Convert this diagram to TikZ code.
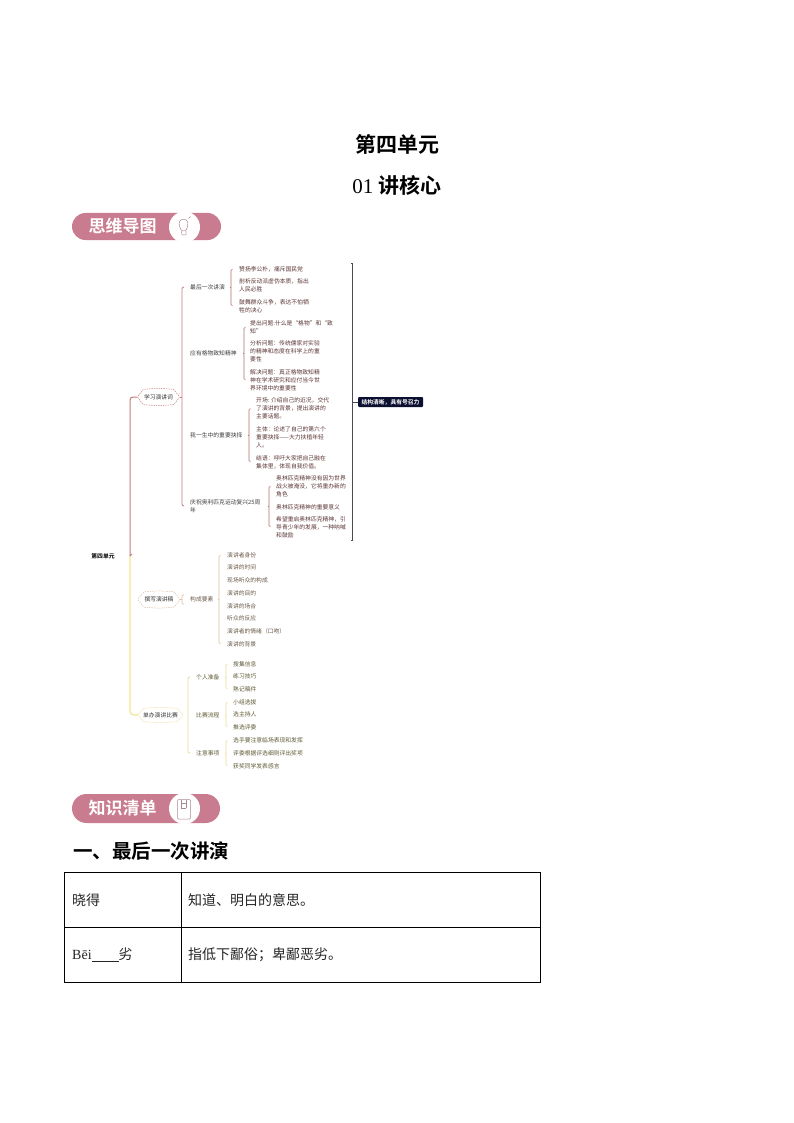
\documentclass[tikz,border=0pt]{standalone}
\usepackage{fontspec}
\usetikzlibrary{calc}
\setmainfont{Liberation Serif}
\newfontfamily\cjk{Noto Sans CJK SC}
\newfontfamily\cjkb{Noto Sans CJK SC Bold}
\definecolor{pillc}{HTML}{C97C90}
\definecolor{redl}{HTML}{C47C7C}
\definecolor{redd}{HTML}{B87070}
\definecolor{redt}{HTML}{5C3636}
\definecolor{tanl}{HTML}{DDBE9C}
\definecolor{tant}{HTML}{6B5A48}
\definecolor{yell}{HTML}{F3E58E}
\definecolor{yelb}{HTML}{E9DC98}
\definecolor{yelt}{HTML}{5F5A35}
\definecolor{sumc}{HTML}{4A4A55}
\definecolor{navy}{HTML}{0B1030}
\definecolor{icon}{HTML}{A88A92}
\tikzset{
  item/.style={anchor=west,inner sep=0pt,align=left,font=\cjk\fontsize{5.8}{7.9}\selectfont},
  reditem/.style={item,text=redt},
  tanitem/.style={item,text=tant},
  yelitem/.style={item,text=yelt},
  topic/.style={item,text=black!75},
  hexlabel/.style={inner sep=0pt,text=black!80,font=\cjk\fontsize{5.8}{7.9}\selectfont},
  pill/.style={fill=pillc,rounded corners=13.5pt,inner sep=0pt},
  pilltext/.style={text=white,inner sep=0pt,font=\cjkb\fontsize{17}{20}\selectfont},
  cell/.style={draw=black,line width=0.9pt,anchor=north west,inner sep=0pt},
  celltext/.style={anchor=west,inner sep=0pt,text=black!85,font=\cjk\fontsize{14}{16}\selectfont},
}
% \brk{colour}{parent}{first}{last}{x}{tick}
\newcommand{\brk}[6]{%
  \coordinate (bx) at (#5,0);
  \draw[#1,line width=0.6pt,rounded corners=1.5pt]
    ($(#3.west -| bx)+(#6,0)$) -- (#3.west -| bx) -- (#4.west -| bx) -- ($(#4.west -| bx)+(#6,0)$);
  \draw[#1,line width=0.6pt] ($(#2.east -| bx)+(-1.5,0)$) -- (#2.east -| bx);
}
\newcommand{\hexa}[2]{%
  \draw[#2,line width=0.5pt,dash pattern=on 1.4pt off 1pt,rounded corners=1pt]
    (#1.west) -- ([xshift=6pt]#1.north west) -- ([yshift=1pt]#1.north) -- ([xshift=-6pt]#1.north east)
    -- (#1.east) -- ([xshift=-6pt]#1.south east) -- ([yshift=-1pt]#1.south) -- ([xshift=6pt]#1.south west) -- cycle;
}
\begin{document}
\begin{tikzpicture}[x=1pt,y=-1pt]
\useasboundingbox[fill=white] (0,0) rectangle (794,1123);

% titles
\node[inner sep=0pt,font=\cjkb\fontsize{21}{24}\selectfont] (t1) at (397,144) {第四单元};
\node[inner sep=0pt,font=\fontsize{21}{24}\selectfont] (t2) at (397,185) {01 {\cjkb 讲核心}};

% pill 1
\node[pill,minimum width=149pt,minimum height=27pt] (p1) at (146.5,226.5) {};
\node[pilltext] (p1t) at (122.5,226.5) {思维导图};
\node[circle,fill=white,minimum size=31pt,inner sep=0pt] (p1c) at (184.5,227) {};
\draw[icon,line width=0.5pt,rounded corners=1.5pt] (181.5,231) -- (179,225) -- (179.5,220.5) -- (183.5,219) -- (187.5,220.5) -- (188,225) -- (186,231) -- cycle;
\draw[icon,line width=0.5pt,rounded corners=0.5pt] (181.5,231) -- (182,235) -- (186,235) -- (186,231);
\draw[icon,line width=0.5pt] (188.5,218.5) -- (190.5,216.5);

% root
\node[inner sep=0pt,font=\cjkb\fontsize{5.8}{7}\selectfont] (root) at (103,556) {第四单元};

% branch nodes
\node[hexlabel,minimum width=42pt,minimum height=15pt] (b1) at (158.5,397) {学习演讲词};
\node[hexlabel,minimum width=42pt,minimum height=15pt] (b2) at (159,599.5) {撰写演讲稿};
\node[hexlabel,minimum width=45pt,minimum height=13pt] (b3) at (160.5,715) {单办演讲比赛};
\hexa{b1}{redl}
\hexa{b2}{tanl}
\hexa{b3}{yelb}

% trunk
\draw[yell,line width=1.2pt,rounded corners=4pt] (root.east -| 130,0) -- (130,715) -- (b3.west);
\draw[redl,line width=1pt,rounded corners=3pt] (root.east -| 130,0) -- (130,397) -- (b1.west);
\draw[redl,line width=1pt] (root.east -| 130,0) -- ++(2,-2);

% level 2 red
\node[topic] (a1) at (190,287) {最后一次讲演};
\node[topic] (a2) at (190,353) {应有格物致知精神};
\node[topic] (a3) at (190,435) {我一生中的重要抉择};
\node[topic] (a4) at (190,506) {庆祝奥利匹克运动复兴25周\\年};

% items
\node[reditem] (i11) at (239,269) {赞扬李公朴，痛斥国民党};
\node[reditem] (i12) at (239,285.5) {剖析反动派虚伪本质，指出\\人民必胜};
\node[reditem] (i13) at (239,306) {鼓舞群众斗争，表达不怕牺\\牲的决心};
\node[reditem] (i21) at (250,327) {提出问题:什么是“格物”和“致\\知”};
\node[reditem] (i22) at (250,351) {分析问题：传统儒家对实验\\的精神和态度在科学上的重\\要性};
\node[reditem] (i23) at (250,380) {解决问题：真正格物致知精\\神在学术研究和应付当今世\\界环境中的重要性};
\node[reditem] (i31) at (256,408.5) {开场: 介绍自己的近况，交代\\了演讲的背景，提出演讲的\\主要话题。};
\node[reditem] (i32) at (256,437) {主体：论述了自己的第六个\\重要抉择——大力扶植年轻\\人。};
\node[reditem] (i33) at (256,462) {结语：呼吁大家把自己融在\\集体里，体现自我价值。};
\node[reditem] (i41) at (276,486) {奥林匹克精神没有因为世界\\战火被淹没，它将重办新的\\角色};
\node[reditem] (i42) at (276,507) {奥林匹克精神的重要意义};
\node[reditem] (i43) at (276,527) {希望重启奥林匹克精神，引\\导青少年的发展，一种呐喊\\和鼓励};

% red brackets
\coordinate (bx) at (182,0);
\draw[redl,line width=0.8pt,rounded corners=2pt] ($(a1.west -| bx)+(2,0)$) -- (a1.west -| bx) -- (a4.west -| bx) -- ($(a4.west -| bx)+(2,0)$);
\draw[redl,line width=0.7pt] (b1.east) -- (b1.east -| bx);
\brk{redd}{a1}{i11}{i13}{231}{1.5}
\brk{redd}{a2}{i21}{i23}{244}{1.5}
\brk{redd}{a3}{i31}{i33}{249}{1.5}
\brk{redd}{a4}{i41}{i43}{269}{1.5}

% summary
\node[fill=navy,text=white,rounded corners=1pt,inner sep=0pt,minimum width=65pt,minimum height=10pt,font=\cjkb\fontsize{5.8}{7}\selectfont] (sum) at (390.5,402) {结构清晰，具有号召力};
\coordinate (sb) at (352.5,0);
\coordinate (st) at (350.5,263);
\coordinate (sd) at (350.5,540);
\draw[sumc,line width=0.7pt] (st) -- (st -| sb) -- (sd -| sb) -- (sd);
\draw[sumc,line width=0.7pt] (sum.west -| sb) -- (sum.west);

% level 2 tan
\node[topic,text=tant] (c1) at (190,599.5) {构成要素};
\node[tanitem] (d1) at (227,555) {演讲者身份};
\node[tanitem] (d2) at (227,567.5) {演讲的时间};
\node[tanitem] (d3) at (227,580) {现场听众的构成};
\node[tanitem] (d4) at (227,593) {演讲的目的};
\node[tanitem] (d5) at (227,606) {演讲的场合};
\node[tanitem] (d6) at (227,618.5) {听众的反应};
\node[tanitem] (d7) at (227,631) {演讲者的情绪（口吻）};
\node[tanitem] (d8) at (227,644) {演讲的背景};
\coordinate (bx) at (182,0);
\draw[tanl,line width=0.7pt,rounded corners=1pt] (184,595) -- (182,595) -- (182,604) -- (184,604);
\draw[tanl,line width=0.7pt] (b2.east) -- (b2.east -| bx);
\brk{tanl}{c1}{d1}{d8}{219}{1.5}

% level 2 yellow
\node[topic,text=yelt] (e1) at (196,677) {个人准备};
\node[topic,text=yelt] (e2) at (196,715) {比赛流程};
\node[topic,text=yelt] (e3) at (196,753) {注意事项};
\node[yelitem] (f1) at (233,664) {搜集信息};
\node[yelitem] (f2) at (233,676.5) {练习技巧};
\node[yelitem] (f3) at (233,689) {熟记稿件};
\node[yelitem] (f4) at (233,702) {小组选拔};
\node[yelitem] (f5) at (233,714.5) {选主持人};
\node[yelitem] (f6) at (233,727) {推选评委};
\node[yelitem] (f7) at (233,740) {选手要注意临场表现和发挥};
\node[yelitem] (f8) at (233,753) {评委根据评选细则评出奖项};
\node[yelitem] (f9) at (233,766) {获奖同学发表感言};
\coordinate (bx) at (188,0);
\draw[yelb,line width=0.8pt,rounded corners=2pt] ($(e1.west -| bx)+(2,0)$) -- (e1.west -| bx) -- (e3.west -| bx) -- ($(e3.west -| bx)+(2,0)$);
\brk{yelb}{e1}{f1}{f3}{226}{1.5}
\brk{yelb}{e2}{f4}{f6}{226}{1.5}
\brk{yelb}{e3}{f7}{f9}{226}{1.5}

% pill 2
\node[pill,minimum width=148pt,minimum height=29pt,rounded corners=14.5pt] (p2) at (146,808.5) {};
\node[pilltext] (p2t) at (122.5,808) {知识清单};
\node[circle,fill=white,minimum size=31pt,inner sep=0pt] (p2c) at (184.5,808.5) {};
\draw[icon,line width=0.5pt,rounded corners=1pt] (177.5,799.5) rectangle (190.5,819);
\draw[icon,line width=0.5pt] (181,799.5) -- (181,808) (186,799.5) -- (186,808) (181,803) -- (186,803) (181,808) -- (186,808);

% heading
\node[anchor=west,inner sep=0pt,font=\cjkb\fontsize{19.5}{22}\selectfont] (h1) at (73,851) {一、最后一次讲演};

% table
\node[cell,minimum width=117pt,minimum height=55pt] (c11) at (64,872) {};
\node[cell,minimum width=359pt,minimum height=55pt] (c12) at (181,872) {};
\node[cell,minimum width=117pt,minimum height=55pt] (c21) at (64,927) {};
\node[cell,minimum width=359pt,minimum height=55pt] (c22) at (181,927) {};
\node[celltext] (x11) at (72,900) {晓得};
\node[celltext] (x12) at (188,900) {知道、明白的意思。};
\node[celltext] (x21) at (72,955) {{\rmfamily Bēi}\underline{\hspace{27pt}}{\cjk 劣}};
\node[celltext] (x22) at (188,955) {指低下鄙俗；卑鄙恶劣。};
\end{tikzpicture}
\end{document}
